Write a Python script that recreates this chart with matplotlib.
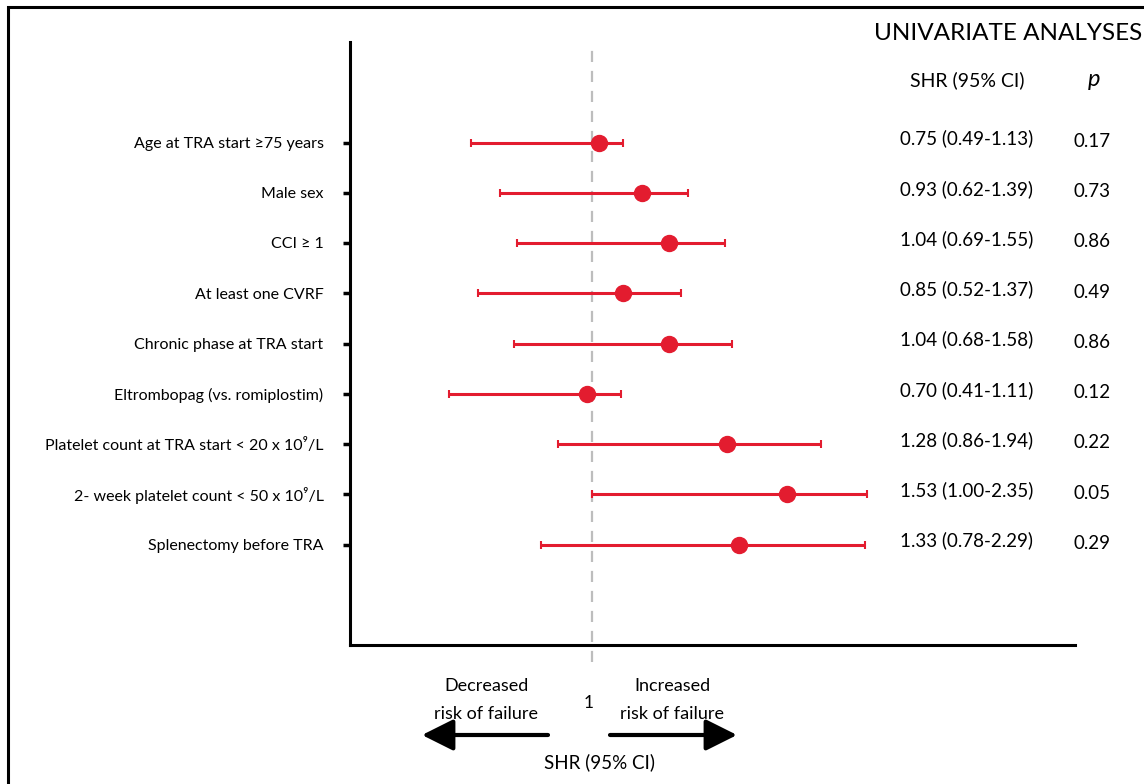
import numpy as np
import matplotlib.pyplot as plt
import matplotlib.transforms as mtransforms
from matplotlib.patches import Rectangle, FancyArrowPatch

# variables (top to bottom)
labels = ["Age at TRA start \u226575 years", "Male sex", "CCI \u2265 1", "At least one CVRF",
          "Chronic phase at TRA start", "Eltrombopag (vs. romiplostim)",
          "Platelet count at TRA start < 20 x 10\u2079/L", "2- week platelet count < 50 x 10\u2079/L",
          "Splenectomy before TRA"]
# positions as drawn in the figure
point_x = [1.03, 1.21, 1.32, 1.13, 1.32, 0.98, 1.56, 1.81, 1.61]
ci_low = [0.50, 0.62, 0.69, 0.53, 0.68, 0.41, 0.86, 1.00, 0.79]
ci_high = [1.13, 1.40, 1.55, 1.37, 1.58, 1.12, 1.95, 2.14, 2.13]
# printed values
shr_text = ["0.75 (0.49-1.13)", "0.93 (0.62-1.39)", "1.04 (0.69-1.55)", "0.85 (0.52-1.37)",
            "1.04 (0.68-1.58)", "0.70 (0.41-1.11)", "1.28 (0.86-1.94)", "1.53 (1.00-2.35)",
            "1.33 (0.78-2.29)"]
p_text = ["0.17", "0.73", "0.86", "0.49", "0.86", "0.12", "0.22", "0.05", "0.29"]

RED = "#e31c2f"
font = ["Lato", "DejaVu Sans"]

fig = plt.figure(figsize=(11.44, 7.84), dpi=100)
ax = fig.add_axes([350 / 1144, 1 - 645 / 784, 725 / 1144, 603 / 784])

rows = np.arange(1, len(labels) + 1)
pt = np.array(point_x)
ax.errorbar(pt, rows, xerr=[pt - np.array(ci_low), np.array(ci_high) - pt], fmt="o",
            color=RED, ecolor=RED, elinewidth=2.2, capsize=3, capthick=1.5,
            markersize=11.5, zorder=3)

ax.axvline(1, ymin=-0.028, ymax=1, color="#bdbdbd", lw=1.6, ls=(0, (5, 4)),
           clip_on=False, zorder=1)

ax.set_xlim(0, 3)
ax.set_ylim(11, -1)
ax.set_xticks([])
ax.set_yticks(rows)
ax.set_yticklabels(labels, family=font, fontsize=11.5)
ax.tick_params(axis="y", length=5, width=2.5, pad=14, direction="out")
for s in ["top", "right"]:
    ax.spines[s].set_visible(False)
ax.spines["left"].set_linewidth(2.2)
ax.spines["bottom"].set_linewidth(2.2)

# right-hand table
trans = mtransforms.blended_transform_factory(fig.transFigure, ax.transData)
for r, s, p in zip(rows, shr_text, p_text):
    ax.text(967 / 1144, r - 0.08, s, transform=trans, ha="center", va="center",
            family=font, fontsize=13.5, clip_on=False)
    ax.text(1092 / 1144, r - 0.02, p, transform=trans, ha="center", va="center",
            family=font, fontsize=13.5, clip_on=False)

fig.text(1008 / 1144, 1 - 33 / 784, "UNIVARIATE ANALYSES", ha="center", va="center",
         family=font, fontsize=17.5)
fig.text(967 / 1144, 1 - 80 / 784, "SHR (95% CI)", ha="center", va="center",
         family=font, fontsize=14)
fig.text(1094 / 1144, 1 - 80 / 784, "p", ha="center", va="center",
         family=font, fontsize=17, style="italic")

# bottom annotations
fig.text(589 / 1144, 1 - 703 / 784, "1", ha="center", va="center", family=font, fontsize=12.5)
fig.text(486 / 1144, 1 - 700 / 784, "Decreased\nrisk of failure", ha="center", va="center",
         family=font, fontsize=13, linespacing=1.9)
fig.text(672 / 1144, 1 - 700 / 784, "Increased\nrisk of failure", ha="center", va="center",
         family=font, fontsize=13, linespacing=1.9)
fig.text(600 / 1144, 1 - 762 / 784, "SHR (95% CI)", ha="center", va="center",
         family=font, fontsize=13.5)

arrow = dict(arrowstyle="-|>,head_length=1.2,head_width=0.6", color="black", lw=3,
             shrinkA=0, shrinkB=0)
fig.add_artist(FancyArrowPatch((548 / 1144, 1 - 735 / 784), (422 / 1144, 1 - 735 / 784),
                               transform=fig.transFigure, mutation_scale=16, **arrow))
fig.add_artist(FancyArrowPatch((610 / 1144, 1 - 735 / 784), (737 / 1144, 1 - 735 / 784),
                               transform=fig.transFigure, mutation_scale=16, **arrow))

# outer frame (top and left edges visible)
fig.add_artist(Rectangle((8 / 1144, -0.1), 1.2, 1 - 7 / 784 + 0.1, transform=fig.transFigure,
                         fill=False, edgecolor="black", lw=2.2))

fig.savefig("out.png", dpi=100)
